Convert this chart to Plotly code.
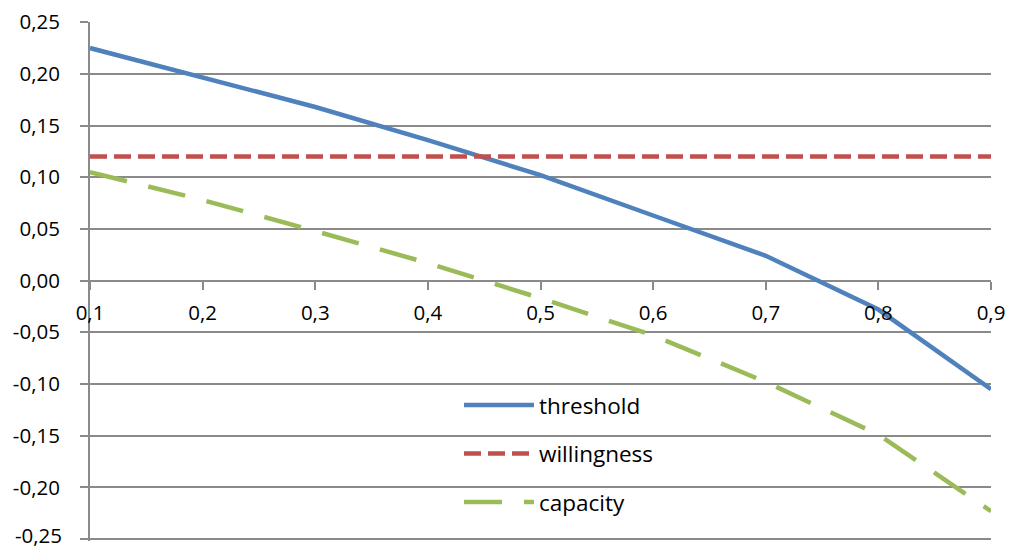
import plotly.graph_objects as go

# Shares on the horizontal axis
x_values = [0.1, 0.2, 0.3, 0.4, 0.5, 0.6, 0.7, 0.8, 0.9]
x_tick_labels = ["0,1", "0,2", "0,3", "0,4", "0,5", "0,6", "0,7", "0,8", "0,9"]

# Series values
threshold = [0.225, 0.196, 0.168, 0.136, 0.102, 0.063, 0.024, -0.028, -0.105]
willingness = [0.12, 0.12, 0.12, 0.12, 0.12, 0.12, 0.12, 0.12, 0.12]
capacity = [0.105, 0.078, 0.048, 0.017, -0.017, -0.053, -0.098, -0.149, -0.223]

y_ticks = [0.25, 0.20, 0.15, 0.10, 0.05, 0.00, -0.05, -0.10, -0.15, -0.20, -0.25]
y_tick_labels = ["0,25", "0,20", "0,15", "0,10", "0,05", "0,00",
                 "-0,05", "-0,10", "-0,15", "-0,20", "-0,25"]

series_names = ["threshold", "willingness", "capacity"]
series_colors = ["#4F81BD", "#C0504D", "#9BBB59"]
series_dashes = ["solid", "17px,7px", "38px,22px"]

FONT = "Open Sans"
GRID = "#8a8a8a"
LINE_W = 4.5
TICK_FONT = dict(family=FONT, size=20.5, color="black")
Y_RANGE = [-0.2519, 0.2502]

fig = go.Figure()
for name, vals, color, dash in zip(series_names, [threshold, willingness, capacity],
                                   series_colors, series_dashes):
    fig.add_trace(go.Scatter(
        x=x_values, y=vals, name=name, mode="lines",
        line=dict(color=color, width=LINE_W, dash=dash),
        showlegend=False,
    ))

# Plot frame in page pixels; the y range runs a touch past -0.25
plot_l, plot_r, plot_t, plot_b = 90, 991, 22, 541


def px_to_paper_x(px):
    return (px - plot_l) / (plot_r - plot_l)


def px_to_paper_y(py):
    return (plot_b - py) / (plot_b - plot_t)


def value_to_paper_y(v):
    return (v - Y_RANGE[0]) / (Y_RANGE[1] - Y_RANGE[0])


# Lowest gridline, drawn as a shape since plotly leaves it out at the frame edge
shapes = [dict(
    type="line", xref="paper", yref="paper", layer="above",
    x0=0, x1=1, y0=value_to_paper_y(y_ticks[-1]), y1=value_to_paper_y(y_ticks[-1]),
    line=dict(color=GRID, width=2),
)]

# Key drawn inside the plot: white panel, sample line and label per series
shapes.append(dict(
    type="rect", xref="paper", yref="paper", layer="between",
    x0=px_to_paper_x(450), x1=px_to_paper_x(670),
    y0=px_to_paper_y(528), y1=px_to_paper_y(378),
    fillcolor="white", line=dict(width=0),
))
annotations = []
for i, (name, color, dash) in enumerate(zip(series_names, series_colors, series_dashes)):
    row_y = px_to_paper_y(405 + i * 48.5)
    shapes.append(dict(
        type="line", xref="paper", yref="paper", layer="above",
        x0=px_to_paper_x(464), x1=px_to_paper_x(534), y0=row_y, y1=row_y,
        line=dict(color=color, width=LINE_W, dash=dash),
    ))
    annotations.append(dict(
        xref="paper", yref="paper", x=px_to_paper_x(537), y=row_y,
        xanchor="left", yanchor="middle", showarrow=False, text=name,
        font=dict(family=FONT, size=22.5, color="black"),
    ))

# Lowest y label, nudged up so it stays inside the page
annotations.append(dict(
    xref="paper", yref="y", x=px_to_paper_x(64), y=y_ticks[-1], yshift=4,
    xanchor="right", yanchor="middle", showarrow=False, text=y_tick_labels[-1],
    font=TICK_FONT,
))

fig.update_layout(
    width=1010, height=549,
    margin=dict(l=plot_l, r=1010 - plot_r, t=plot_t, b=549 - plot_b),
    paper_bgcolor="white", plot_bgcolor="white",
    font=TICK_FONT,
    showlegend=False,
    shapes=shapes,
    annotations=annotations,
)

# Horizontal axis crosses at y = 0 (placed in paper units of the frame)
fig.update_xaxes(
    range=[0.1, 0.9], tickvals=x_values, ticktext=x_tick_labels,
    showgrid=False, zeroline=False, showline=False,
    ticks="outside", ticklen=8, tickcolor=GRID, tickwidth=2,
    anchor="free", position=value_to_paper_y(0.0), ticklabelstandoff=6,
    automargin=False,
)
fig.update_yaxes(
    range=Y_RANGE, tickvals=y_ticks,
    ticktext=y_tick_labels[:-1] + [""],
    showgrid=True, gridcolor=GRID, gridwidth=2,
    zeroline=True, zerolinecolor=GRID, zerolinewidth=2,
    showline=True, linecolor=GRID, linewidth=2,
    ticks="outside", ticklen=8, tickcolor=GRID, tickwidth=2,
    ticklabelstandoff=16, automargin=False,
)

fig.write_html("out.html")
